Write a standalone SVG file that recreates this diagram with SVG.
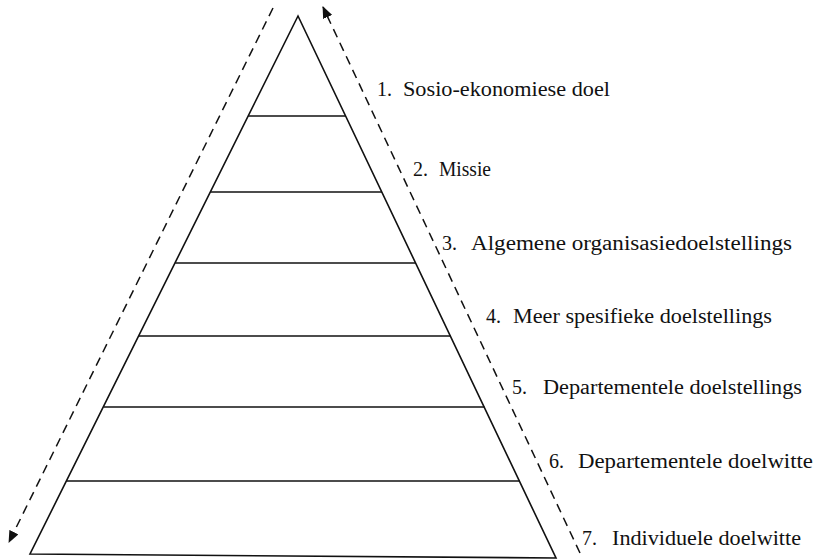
<svg xmlns="http://www.w3.org/2000/svg" width="817" height="560" viewBox="0 0 817 560">
  <style>
    .edge { fill: none; stroke: #111; stroke-width: 1.6; stroke-linejoin: miter; }
    .tier { stroke: #111; stroke-width: 1.5; }
    .flow { fill: none; stroke: #111; stroke-width: 1.5; stroke-dasharray: 9 6; }
    .num, .lbl { font-family: "Liberation Serif", "Times New Roman", serif; font-size: 20px; fill: #111; }
  </style>
  <defs>
    <marker id="head" viewBox="0 0 12 10" refX="11" refY="5" markerWidth="12" markerHeight="10" markerUnits="userSpaceOnUse" orient="auto">
      <path d="M0,0 L12,5 L0,10 Z" fill="#111"/>
    </marker>
  </defs>
  <rect width="817" height="560" fill="#fff"/>

  <!-- pyramid outline -->
  <g id="pyramid">
    <path class="edge" d="M298,16 L30,554 L556,558 Z"/>
  </g>

  <!-- tier dividers -->
  <g id="tiers">
    <line class="tier" x1="248.3" y1="116" x2="345.7" y2="116"/>
    <line class="tier" x1="210.5" y1="192" x2="381.9" y2="192"/>
    <line class="tier" x1="175.2" y1="263" x2="415.8" y2="263"/>
    <line class="tier" x1="138.9" y1="336" x2="450.6" y2="336"/>
    <line class="tier" x1="103.6" y1="407" x2="484.5" y2="407"/>
    <line class="tier" x1="66.8" y1="481" x2="519.8" y2="481"/>
  </g>

  <!-- dashed flow arrows -->
  <g id="connectors">
    <line class="flow" x1="273" y1="8" x2="9" y2="542" marker-end="url(#head)"/>
    <line class="flow" x1="580" y1="553" x2="323" y2="7" marker-end="url(#head)"/>
  </g>

  <!-- level labels -->
  <g id="label-1">
    <text class="num" x="377" y="96">1.</text>
    <text class="lbl" x="403" y="96" textLength="207" lengthAdjust="spacingAndGlyphs">Sosio-ekonomiese doel</text>
  </g>
  <g id="label-2">
    <text class="num" x="413" y="176">2.</text>
    <text class="lbl" x="439" y="176" textLength="52" lengthAdjust="spacingAndGlyphs">Missie</text>
  </g>
  <g id="label-3">
    <text class="num" x="442" y="250">3.</text>
    <text class="lbl" x="471" y="250" textLength="321" lengthAdjust="spacingAndGlyphs">Algemene organisasiedoelstellings</text>
  </g>
  <g id="label-4">
    <text class="num" x="486" y="323">4.</text>
    <text class="lbl" x="513" y="323" textLength="259" lengthAdjust="spacingAndGlyphs">Meer spesifieke doelstellings</text>
  </g>
  <g id="label-5">
    <text class="num" x="512" y="394">5.</text>
    <text class="lbl" x="543" y="394" textLength="259" lengthAdjust="spacingAndGlyphs">Departementele doelstellings</text>
  </g>
  <g id="label-6">
    <text class="num" x="549" y="468">6.</text>
    <text class="lbl" x="578" y="468" textLength="235" lengthAdjust="spacingAndGlyphs">Departementele doelwitte</text>
  </g>
  <g id="label-7">
    <text class="num" x="582" y="545">7.</text>
    <text class="lbl" x="612" y="545" textLength="189" lengthAdjust="spacingAndGlyphs">Individuele doelwitte</text>
  </g>
</svg>
